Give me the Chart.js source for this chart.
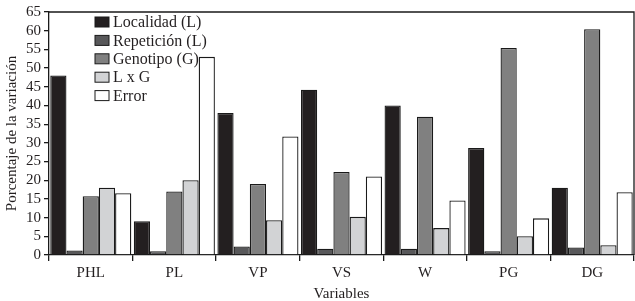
<!DOCTYPE html>
<html>
<head>
<meta charset="utf-8">
<script src="https://cdn.jsdelivr.net/npm/chart.js@4.4.0/dist/chart.umd.min.js"></script>
<style>
  body { margin: 0; background: #fff; }
  #wrap { width: 635px; height: 301px; }
</style>
</head>
<body>
<div id="wrap"><canvas id="chart" width="635" height="301"></canvas></div>
<script>
const variables = ["PHL", "PL", "VP", "VS", "W", "PG", "DG"];
const localidad = [48, 9, 38, 44.2, 40, 28.6, 18];
const repeticion = [1.2, 1, 2.3, 1.7, 1.7, 1, 2];
const genotipo = [15.7, 17, 19, 22.2, 37, 55.4, 60.4];
const lxg = [18, 20, 9.3, 10.2, 7.2, 5, 2.6];
const error = [16.5, 53, 31.7, 21, 14.6, 9.8, 16.8];

const serif = "'Liberation Serif', 'DejaVu Serif', serif";

function bars(label, data, color) {
  return {
    label: label,
    data: data,
    backgroundColor: color,
    borderColor: "#1a1a1a",
    borderWidth: 1.3,
    barPercentage: 1,
    categoryPercentage: 0.97,
  };
}

// legend drawn inside the plot area, plus the top/right frame
const insideLegend = {
  id: "insideLegend",
  afterDraw(chart) {
    const ctx = chart.ctx;
    const area = chart.chartArea;
    ctx.save();
    ctx.strokeStyle = "#1a1a1a";
    ctx.lineWidth = 1.3;
    ctx.beginPath();
    ctx.moveTo(area.left, area.top);
    ctx.lineTo(area.right, area.top);
    ctx.lineTo(area.right, area.bottom);
    ctx.stroke();

    ctx.font = "16px " + serif;
    ctx.textBaseline = "middle";
    chart.data.datasets.forEach((ds, i) => {
      const y = 22 + i * 18.4;
      const x = 95;
      ctx.fillStyle = ds.backgroundColor;
      ctx.fillRect(x, y - 5, 14, 10);
      ctx.lineWidth = 1;
      ctx.strokeRect(x, y - 5, 14, 10);
      ctx.fillStyle = "#231f20";
      ctx.fillText(ds.label, x + 18, y + 1);
    });
    ctx.restore();
  },
};

new Chart(document.getElementById("chart"), {
  type: "bar",
  data: {
    labels: variables,
    datasets: [
      bars("Localidad (L)", localidad, "#231f20"),
      bars("Repetición (L)", repeticion, "#58585a"),
      bars("Genotipo (G)", genotipo, "#808080"),
      bars("L x G", lxg, "#d2d3d5"),
      bars("Error", error, "#ffffff"),
    ],
  },
  options: {
    responsive: false,
    animation: false,
    layout: { padding: { left: 3, right: 1, top: 0, bottom: -2 } },
    plugins: {
      legend: { display: false },
      tooltip: { enabled: false },
    },
    scales: {
      x: {
        grid: {
          display: true,
          drawOnChartArea: false,
          offset: true,
          tickLength: 6,
          color: "#1a1a1a",
          lineWidth: 1.3,
        },
        border: { color: "#1a1a1a", width: 1.3 },
        ticks: { color: "#231f20", font: { family: serif, size: 15 }, padding: 3 },
        title: {
          display: true,
          text: "Variables",
          color: "#231f20",
          font: { family: serif, size: 15 },
          padding: { top: 0, bottom: 0 },
        },
      },
      y: {
        min: 0,
        max: 65,
        ticks: {
          stepSize: 5,
          autoSkip: false,
          color: "#231f20",
          font: { family: serif, size: 15 },
          padding: 3,
        },
        grid: {
          display: true,
          drawOnChartArea: false,
          tickLength: 5,
          color: "#1a1a1a",
          lineWidth: 1.3,
        },
        border: { color: "#1a1a1a", width: 1.3 },
        title: {
          display: true,
          text: "Porcentaje de la variación",
          color: "#231f20",
          font: { family: serif, size: 15 },
          padding: { top: 0, bottom: 2 },
        },
      },
    },
  },
  plugins: [insideLegend],
});
</script>
</body>
</html>
